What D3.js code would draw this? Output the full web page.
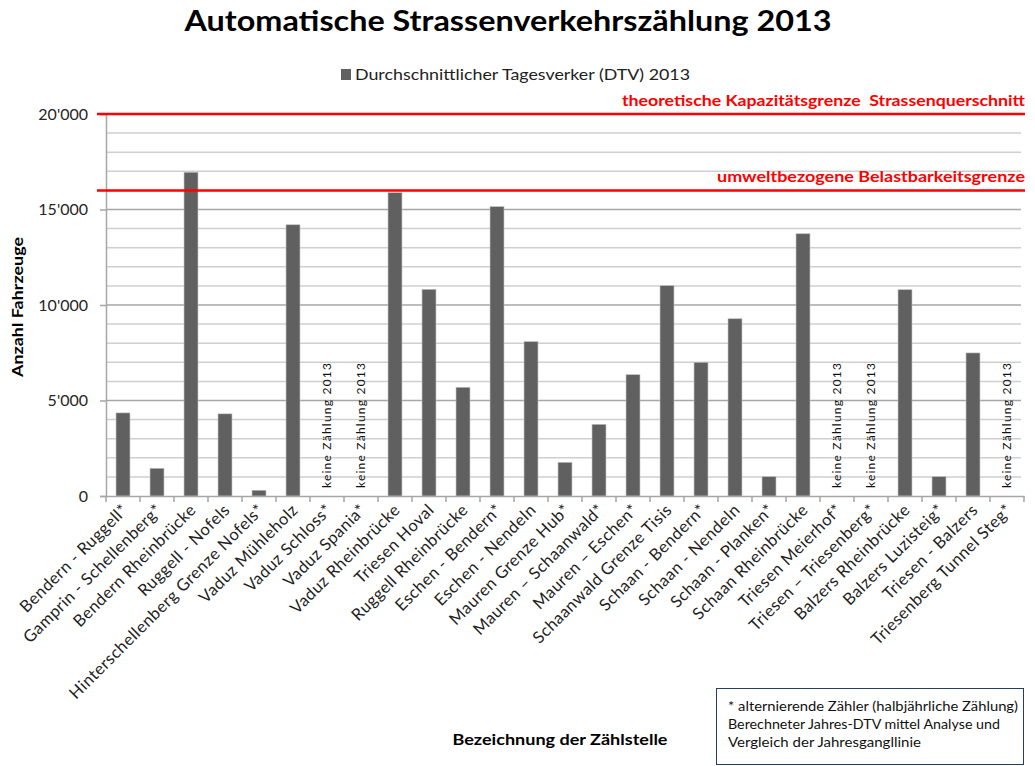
<!DOCTYPE html>
<html>
<head>
<meta charset="utf-8">
<script src="https://cdn.jsdelivr.net/npm/d3@7"></script>
<style>
  body { margin: 0; background: #fff; }
  svg { font-family: Lato, "Open Sans", sans-serif; }
</style>
</head>
<body>
<svg width="1035" height="766"></svg>
<script>
// Zählstellen (x-Achse)
var categories = [
  "Bendern - Ruggell*", "Gamprin - Schellenberg*", "Bendern Rheinbrücke", "Ruggell - Nofels",
  "Hinterschellenberg Grenze Nofels*", "Vaduz Mühleholz", "Vaduz Schloss*", "Vaduz Spania*",
  "Vaduz Rheinbrücke", "Triesen Hoval", "Ruggell Rheinbrücke", "Eschen - Bendern*",
  "Eschen - Nendeln", "Mauren Grenze Hub*", "Mauren – Schaanwald*", "Mauren – Eschen*",
  "Schaanwald Grenze Tisis", "Schaan - Bendern*", "Schaan - Nendeln", "Schaan - Planken*",
  "Schaan  Rheinbrücke", "Triesen Meierhof*", "Triesen – Triesenberg*", "Balzers Rheinbrücke",
  "Balzers Luzisteig*", "Triesen - Balzers", "Triesenberg Tunnel Steg*"
];
// DTV 2013, null = keine Zählung 2013
var dtv = [
  4350, 1450, 16950, 4300,
  300, 14200, null, null,
  15880, 10820, 5690, 15150,
  8080, 1760, 3750, 6350,
  11010, 7000, 9280, 1010,
  13730, null, null, 10800,
  1010, 7490, null
];
var yTicks = [0, 5000, 10000, 15000, 20000];
var gridValues = d3.range(0, 20001, 1000);
var limits = [20000, 16000];
var limitLabels = ["theoretische Kapazitätsgrenze  Strassenquerschnitt", "umweltbezogene Belastbarkeitsgrenze"];
var seriesName = "Durchschnittlicher Tagesverker (DTV) 2013";
var noteLines = [
  "* alternierende Zähler (halbjährliche Zählung)",
  "Berechneter Jahres-DTV mittel Analyse und",
  "Vergleich der Jahresgangllinie"
];

var svg = d3.select("svg");
var plotLeft = 106, plotRight = 1024, plotTop = 114, plotBottom = 496;

var x = d3.scaleBand().domain(categories).range([plotLeft, plotRight]).paddingInner(0.59).paddingOuter(0.295);
var xb = d3.scaleBand().domain(categories).range([plotLeft, plotRight]);
var y = d3.scaleLinear().domain([0, 20000]).range([plotBottom, plotTop]);
var fmt = d3.formatLocale({ decimal: ".", thousands: "'", grouping: [3], currency: ["", ""] }).format(",");

// title
svg.append("text")
  .attr("x", 508).attr("y", 31)
  .attr("text-anchor", "middle")
  .attr("font-size", 28).attr("font-weight", "bold")
  .attr("textLength", 647).attr("lengthAdjust", "spacingAndGlyphs")
  .text("Automatische Strassenverkehrszählung 2013");

// legend
svg.append("rect").attr("x", 341).attr("y", 69).attr("width", 10).attr("height", 11).attr("fill", "#606060");
svg.append("text").attr("x", 355).attr("y", 80).attr("font-size", 16).attr("fill", "#222")
  .attr("textLength", 335).attr("lengthAdjust", "spacingAndGlyphs")
  .text(seriesName);

// gridlines
svg.append("g").selectAll("line")
  .data(gridValues.filter(function(d) { return d > 0 && d < 20000; }))
  .join("line")
  .attr("x1", plotLeft).attr("x2", 1021)
  .attr("y1", function(d) { return y(d); }).attr("y2", function(d) { return y(d); })
  .attr("stroke", function(d) { return d % 5000 === 0 ? "#a6a6a6" : "#cfcfcf"; })
  .attr("stroke-width", 1.5);

// y axis
var yAxis = svg.append("g")
  .attr("transform", "translate(" + plotLeft + ",0)")
  .call(d3.axisLeft(y).tickValues(yTicks).tickFormat(fmt).tickSize(6).tickPadding(12));
yAxis.select(".domain").attr("stroke", "#a6a6a6").attr("stroke-width", 1.5);
yAxis.selectAll(".tick line").attr("stroke", "#a6a6a6").attr("stroke-width", 1.5);
yAxis.selectAll(".tick text").attr("font-size", 16).attr("fill", "#262626").attr("font-family", "Lato");

svg.append("text")
  .attr("transform", "translate(23,307) rotate(-90)")
  .attr("text-anchor", "middle")
  .attr("font-size", 15).attr("font-weight", "bold")
  .attr("textLength", 140).attr("lengthAdjust", "spacingAndGlyphs")
  .text("Anzahl Fahrzeuge");

// bars
svg.append("g").selectAll("rect")
  .data(categories.map(function(c, i) { return { name: c, value: dtv[i] }; }).filter(function(d) { return d.value !== null; }))
  .join("rect")
  .attr("x", function(d) { return x(d.name); })
  .attr("width", x.bandwidth())
  .attr("y", function(d) { return y(d.value); })
  .attr("height", function(d) { return plotBottom - y(d.value); })
  .attr("fill", "#606060")
  .attr("stroke", "#bdbdbd").attr("stroke-width", 0.6);

// keine Zählung labels
svg.append("g").selectAll("text")
  .data(categories.filter(function(c, i) { return dtv[i] === null; }))
  .join("text")
  .attr("transform", function(d) { return "translate(" + (xb(d) + xb.bandwidth() / 2 + 4) + ",488) rotate(-90)"; })
  .attr("font-size", 12).attr("fill", "#111")
  .attr("textLength", 125).attr("lengthAdjust", "spacing")
  .text("keine Zählung 2013");

// x axis
var xAxis = svg.append("g")
  .attr("transform", "translate(0," + plotBottom + ")")
  .call(d3.axisBottom(xb).tickSize(0).tickFormat(""));
xAxis.select(".domain").attr("stroke", "#a6a6a6").attr("stroke-width", 1.5);
svg.append("g").selectAll("line")
  .data(categories.concat(["end"]))
  .join("line")
  .attr("x1", function(d, i) { return plotLeft + i * xb.bandwidth(); })
  .attr("x2", function(d, i) { return plotLeft + i * xb.bandwidth(); })
  .attr("y1", plotBottom).attr("y2", plotBottom + 6)
  .attr("stroke", "#a6a6a6").attr("stroke-width", 1.5);

svg.append("g").selectAll("text")
  .data(categories)
  .join("text")
  .attr("transform", function(d) { return "translate(" + (xb(d) + xb.bandwidth() / 2 + 6) + "," + (plotBottom + 15) + ") rotate(-45)"; })
  .attr("text-anchor", "end")
  .attr("font-size", 16.5).attr("fill", "#222")
  .attr("letter-spacing", 0.5)
  .text(function(d) { return d; });

svg.append("text")
  .attr("x", 560).attr("y", 745)
  .attr("text-anchor", "middle")
  .attr("font-size", 16).attr("font-weight", "bold")
  .attr("textLength", 215).attr("lengthAdjust", "spacingAndGlyphs")
  .text("Bezeichnung der Zählstelle");

// limit lines
var limitWidths = [403, 308];
svg.append("g").selectAll("line")
  .data(limits)
  .join("line")
  .attr("x1", 97).attr("x2", 1025)
  .attr("y1", function(d) { return y(d); }).attr("y2", function(d) { return y(d); })
  .attr("stroke", "#ff0000").attr("stroke-width", 2.5);
svg.append("g").selectAll("text")
  .data(limits)
  .join("text")
  .attr("x", 1025)
  .attr("y", function(d) { return y(d) - 8; })
  .attr("text-anchor", "end")
  .style("white-space", "pre")
  .attr("font-size", 16).attr("font-weight", "bold").attr("fill", "#ff0000")
  .attr("textLength", function(d, i) { return limitWidths[i]; }).attr("lengthAdjust", "spacingAndGlyphs")
  .text(function(d, i) { return limitLabels[i]; });

// note box
var noteWidths = [290, 272, 193];
svg.append("rect")
  .attr("x", 716.5).attr("y", 688.5).attr("width", 307).attr("height", 76)
  .attr("fill", "#fff").attr("stroke", "#243f60").attr("stroke-width", 1);
svg.append("g").selectAll("text")
  .data(noteLines)
  .join("text")
  .attr("x", 728)
  .attr("y", function(d, i) { return 711 + i * 18; })
  .attr("font-size", 13).attr("fill", "#111")
  .attr("textLength", function(d, i) { return noteWidths[i]; }).attr("lengthAdjust", "spacingAndGlyphs")
  .text(function(d) { return d; });
</script>
</body>
</html>
